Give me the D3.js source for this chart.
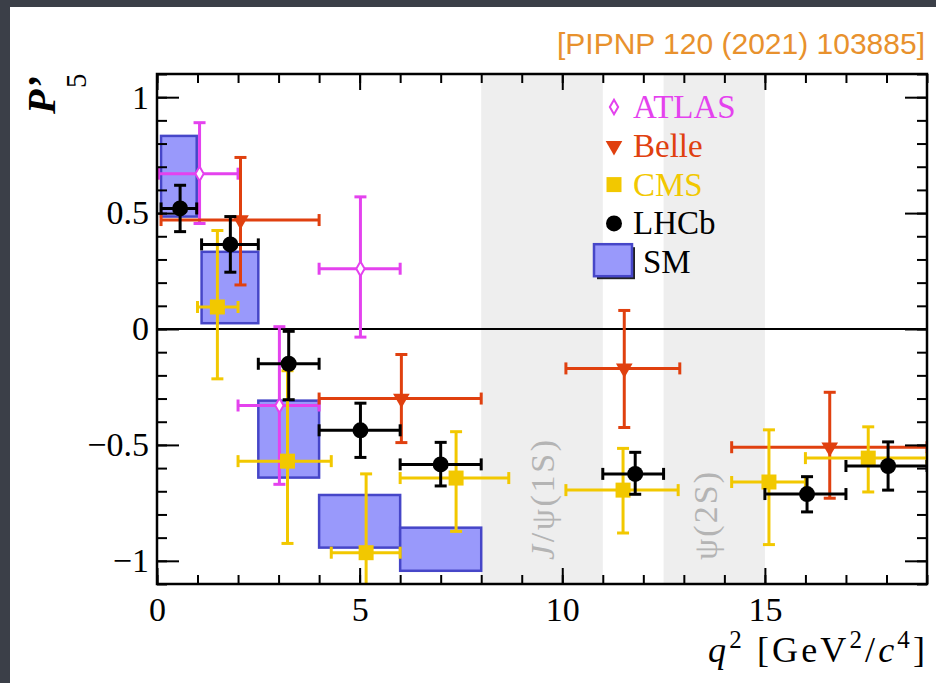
<!DOCTYPE html>
<html>
<head>
<meta charset="utf-8">
<script src="https://cdn.jsdelivr.net/npm/d3@7"></script>
<style>
  body { margin: 0; background: #3b3f48; }
  svg { display: block; }
</style>
</head>
<body>
<div id="chart-holder"></div>
<script>
// each row: [q2 lo, q2 hi, q2 centre, P5', +err, -err]
var atlas = [
  [0.04, 2.0, 1.05, 0.67, 0.22, 0.215],
  [2.0, 4.0, 3.02, -0.33, 0.34, 0.34],
  [4.0, 6.0, 5.02, 0.26, 0.31, 0.295]
];
var belle = [
  [0.1, 4.0, 2.06, 0.47, 0.27, 0.28],
  [4.0, 8.0, 6.03, -0.30, 0.19, 0.19],
  [10.09, 12.9, 11.53, -0.17, 0.25, 0.255],
  [14.18, 19.0, 16.6, -0.51, 0.237, 0.22]
];
var cms = [
  [1.0, 2.0, 1.49, 0.095, 0.33, 0.31],
  [2.0, 4.3, 3.22, -0.57, 0.39, 0.355],
  [4.3, 6.0, 5.16, -0.965, 0.34, 0.34],
  [6.0, 8.68, 7.38, -0.643, 0.2, 0.23],
  [10.09, 12.86, 11.5, -0.695, 0.18, 0.185],
  [14.18, 16.0, 15.1, -0.66, 0.225, 0.27],
  [16.0, 19.0, 17.55, -0.557, 0.135, 0.146]
];
var lhcb = [
  [0.1, 0.98, 0.57, 0.52, 0.10, 0.10],
  [1.1, 2.5, 1.81, 0.365, 0.12, 0.12],
  [2.5, 4.0, 3.25, -0.15, 0.14, 0.155],
  [4.0, 6.0, 5.02, -0.437, 0.117, 0.117],
  [6.0, 8.0, 7.0, -0.584, 0.095, 0.093],
  [11.0, 12.5, 11.8, -0.625, 0.093, 0.088],
  [15.0, 17.0, 16.04, -0.712, 0.075, 0.077],
  [17.0, 19.0, 18.04, -0.591, 0.104, 0.104]
];
// SM prediction boxes: [q2 lo, q2 hi, P5' low, P5' high]
var sm = [
  [0.1, 0.98, 0.485, 0.833],
  [1.1, 2.5, 0.025, 0.333],
  [2.5, 4.0, -0.641, -0.309],
  [4.0, 6.0, -0.943, -0.716],
  [6.0, 8.0, -1.043, -0.857]
];
// charmonium veto regions
var vetoBands = [[8, 11], [12.5, 15]];
var vetoLabels = ["J/ψ(1S)", "ψ(2S)"];

var xTicks = [0, 5, 10, 15];
var yTicks = [-1, -0.5, 0, 0.5, 1];
var legendNames = ["ATLAS", "Belle", "CMS", "LHCb", "SM"];

var colors = {ATLAS: "#e442ee", Belle: "#e0400f", CMS: "#f2c800", LHCb: "#000000"};
var serif = "'Liberation Serif', 'Times New Roman', serif";

var W = 936, H = 683;
var margin = {left: 157, top: 74, right: 9, bottom: 99};

var svg = d3.select("#chart-holder").append("svg")
  .attr("width", W)
  .attr("height", H);

// white page on the dark background
svg.append("rect")
  .attr("x", 10).attr("y", 7)
  .attr("width", W - 10).attr("height", H - 7)
  .attr("fill", "#ffffff");

var x = d3.scaleLinear().domain([0, 19]).range([margin.left, W - margin.right]);
var y = d3.scaleLinear().domain([-1.1, 1.1]).range([H - margin.bottom, margin.top]);

svg.append("clipPath").attr("id", "plot-clip")
  .append("rect")
  .attr("x", x(0)).attr("y", y(1.1))
  .attr("width", x(19) - x(0)).attr("height", y(-1.1) - y(1.1));

var plot = svg.append("g").attr("clip-path", "url(#plot-clip)");

// grey veto bands
plot.selectAll(".veto")
  .data(vetoBands)
  .enter().append("rect")
  .attr("x", d => x(d[0]))
  .attr("width", d => x(d[1]) - x(d[0]))
  .attr("y", y(1.1))
  .attr("height", y(-1.1) - y(1.1))
  .attr("fill", "#eeeeee");

// SM boxes
plot.selectAll(".sm")
  .data(sm)
  .enter().append("rect")
  .attr("x", d => x(d[0]))
  .attr("width", d => x(d[1]) - x(d[0]))
  .attr("y", d => y(d[3]))
  .attr("height", d => y(d[2]) - y(d[3]))
  .attr("fill", "#9999fb")
  .attr("stroke", "#4646c8")
  .attr("stroke-width", 2.5);

// zero line
plot.append("line")
  .attr("x1", x(0)).attr("x2", x(19))
  .attr("y1", y(0)).attr("y2", y(0))
  .attr("stroke", "#000").attr("stroke-width", 2);

// veto labels (rotated)
var vetoText = [[554, 560, 120], [717, 560, 88]];
vetoLabels.forEach(function(lab, i) {
  var t = svg.append("text")
    .attr("transform", "translate(" + vetoText[i][0] + "," + vetoText[i][1] + ") rotate(-90)")
    .attr("font-family", serif)
    .attr("font-size", 34)
    .attr("fill", "#b4b4b4")
    .attr("textLength", vetoText[i][2])
    .attr("lengthAdjust", "spacing");
  if (lab.charAt(0) == "J") {
    t.append("tspan").attr("font-style", "italic").text("J");
    t.append("tspan").text(lab.slice(1));
  } else {
    t.text(lab);
  }
});

var cap = 6;

function drawSeries(data, color, marker) {
  var g = plot.append("g")
    .attr("stroke", color)
    .attr("stroke-width", 3);
  data.forEach(function(d) {
    var cx = x(d[2]), cy = y(d[3]);
    var top = y(d[3] + d[4]), bot = y(d[3] - d[5]);
    g.append("line").attr("x1", x(d[0])).attr("x2", x(d[1])).attr("y1", cy).attr("y2", cy);
    g.append("line").attr("x1", cx).attr("x2", cx).attr("y1", top).attr("y2", bot);
    g.append("line").attr("x1", x(d[0])).attr("x2", x(d[0])).attr("y1", cy - cap).attr("y2", cy + cap);
    g.append("line").attr("x1", x(d[1])).attr("x2", x(d[1])).attr("y1", cy - cap).attr("y2", cy + cap);
    g.append("line").attr("x1", cx - cap).attr("x2", cx + cap).attr("y1", top).attr("y2", top);
    g.append("line").attr("x1", cx - cap).attr("x2", cx + cap).attr("y1", bot).attr("y2", bot);
    marker(plot, cx, cy);
  });
}

function diamond(g, cx, cy) {
  g.append("path")
    .attr("d", d3.symbol().type(d3.symbolDiamond).size(60)())
    .attr("transform", "translate(" + cx + "," + cy + ")")
    .attr("fill", "#fff")
    .attr("stroke", colors.ATLAS)
    .attr("stroke-width", 2);
}
function triangle(g, cx, cy) {
  g.append("path")
    .attr("d", d3.symbol().type(d3.symbolTriangle).size(120)())
    .attr("transform", "translate(" + cx + "," + cy + ") rotate(180)")
    .attr("fill", colors.Belle);
}
function square(g, cx, cy) {
  g.append("path")
    .attr("d", d3.symbol().type(d3.symbolSquare).size(225)())
    .attr("transform", "translate(" + cx + "," + cy + ")")
    .attr("fill", colors.CMS);
}
function dot(g, cx, cy) {
  g.append("circle")
    .attr("cx", cx).attr("cy", cy).attr("r", 8)
    .attr("fill", colors.LHCb);
}

drawSeries(atlas, colors.ATLAS, diamond);
drawSeries(belle, colors.Belle, triangle);
drawSeries(cms, colors.CMS, square);
drawSeries(lhcb, colors.LHCb, dot);

// axes: ticks point inwards on all four sides
function styleAxis(g) {
  g.select(".domain").remove();
  g.selectAll(".tick line").attr("stroke", "#000").attr("stroke-width", 2);
  g.selectAll("text")
    .attr("font-family", serif)
    .attr("font-size", 34)
    .attr("fill", "#000");
}

var yMinor = d3.range(-11, 12).map(d => d / 10);
var xMinor = d3.range(0, 20);

svg.append("g").attr("transform", "translate(" + x(0) + ",0)")
  .call(d3.axisLeft(y).tickValues(yMinor).tickSize(-10).tickFormat("")).call(styleAxis);
svg.append("g").attr("transform", "translate(" + x(0) + ",0)")
  .call(d3.axisLeft(y).tickValues(yTicks).tickSize(-22).tickPadding(8).tickFormat(d3.format(""))).call(styleAxis);
svg.append("g").attr("transform", "translate(" + x(19) + ",0)")
  .call(d3.axisRight(y).tickValues(yMinor).tickSize(-10).tickFormat("")).call(styleAxis);
svg.append("g").attr("transform", "translate(" + x(19) + ",0)")
  .call(d3.axisRight(y).tickValues(yTicks).tickSize(-22).tickFormat("")).call(styleAxis);

svg.append("g").attr("transform", "translate(0," + y(-1.1) + ")")
  .call(d3.axisBottom(x).tickValues(xMinor).tickSize(-9).tickFormat("")).call(styleAxis);
svg.append("g").attr("transform", "translate(0," + y(-1.1) + ")")
  .call(d3.axisBottom(x).tickValues(xTicks).tickSize(-16).tickPadding(13).tickFormat(d3.format(""))).call(styleAxis);
svg.append("g").attr("transform", "translate(0," + y(1.1) + ")")
  .call(d3.axisTop(x).tickValues(xMinor).tickSize(-9).tickFormat("")).call(styleAxis);
svg.append("g").attr("transform", "translate(0," + y(1.1) + ")")
  .call(d3.axisTop(x).tickValues(xTicks).tickSize(-16).tickFormat("")).call(styleAxis);

// frame
svg.append("rect")
  .attr("x", x(0)).attr("y", y(1.1))
  .attr("width", x(19) - x(0)).attr("height", y(-1.1) - y(1.1))
  .attr("fill", "none")
  .attr("stroke", "#000")
  .attr("stroke-width", 2.5);

// legend
var leg = svg.append("g");
var legX = 614, legY0 = 107, legStep = 38.8;
var legMarkers = [diamond, triangle, square, dot];
legendNames.forEach(function(name, i) {
  var cy = legY0 + i * legStep;
  if (name == "SM") {
    leg.append("rect").attr("x", legX - 17).attr("y", cy - 15)
      .attr("width", 38).attr("height", 32).attr("fill", "#222");
    leg.append("rect").attr("x", legX - 20).attr("y", cy - 18)
      .attr("width", 38).attr("height", 32)
      .attr("fill", "#9999fb").attr("stroke", "#4646c8").attr("stroke-width", 2.5);
  } else {
    legMarkers[i](leg, legX, cy);
  }
  leg.append("text")
    .attr("x", name == "SM" ? legX + 29 : legX + 19)
    .attr("y", cy + 11)
    .attr("font-family", serif)
    .attr("font-size", 33)
    .attr("fill", colors[name] || "#000")
    .text(name);
});

// y axis title P'_5
svg.append("text")
  .attr("transform", "translate(55,114) rotate(-90)")
  .attr("font-family", serif)
  .attr("font-size", 40)
  .attr("font-weight", "bold")
  .attr("font-style", "italic")
  .text("P\u2019");
svg.append("text")
  .attr("transform", "translate(86,88) rotate(-90)")
  .attr("font-family", serif)
  .attr("font-size", 29)
  .text("5");

// x axis title
var xt = svg.append("text")
  .attr("x", 925).attr("y", 662)
  .attr("text-anchor", "end")
  .attr("font-family", serif)
  .attr("font-size", 36)
  .attr("textLength", 217)
  .attr("lengthAdjust", "spacing");
xt.append("tspan").attr("font-style", "italic").text("q");
xt.append("tspan").attr("font-size", 25).attr("dy", -14).text("2");
xt.append("tspan").attr("dy", 14).text(" [GeV");
xt.append("tspan").attr("font-size", 25).attr("dy", -14).text("2");
xt.append("tspan").attr("dy", 14).text("/");
xt.append("tspan").attr("font-style", "italic").text("c");
xt.append("tspan").attr("font-size", 25).attr("dy", -14).text("4");
xt.append("tspan").attr("dy", 14).text("]");

// reference tag
svg.append("text")
  .attr("x", 925).attr("y", 54)
  .attr("text-anchor", "end")
  .attr("font-family", "'Liberation Sans', Arial, sans-serif")
  .attr("font-size", 30)
  .attr("fill", "#e8912d")
  .text("[PIPNP 120 (2021) 103885]");
</script>
</body>
</html>
